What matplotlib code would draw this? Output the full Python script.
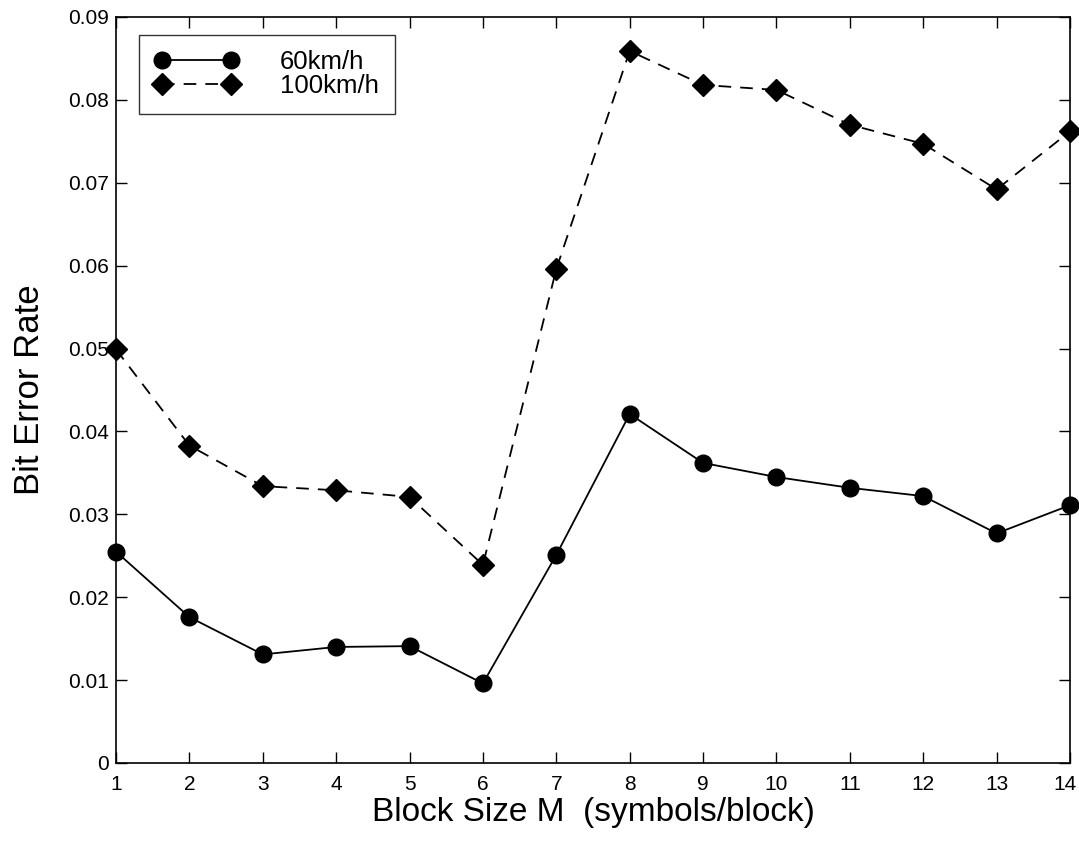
import matplotlib
matplotlib.use("Agg")
import matplotlib.pyplot as plt
import matplotlib.transforms as mtransforms

block_size = [1, 2, 3, 4, 5, 6, 7, 8, 9, 10, 11, 12, 13, 14]
ber_60 = [0.0255, 0.0176, 0.0131, 0.0140, 0.0141, 0.0096, 0.0251,
          0.0421, 0.0362, 0.0345, 0.0332, 0.0322, 0.0277, 0.0311]
ber_100 = [0.0499, 0.0383, 0.0334, 0.0329, 0.0321, 0.0239, 0.0596,
           0.0859, 0.0818, 0.0812, 0.0770, 0.0747, 0.0692, 0.0762]
labels = ["60km/h", "100km/h"]
x_ticks = list(range(1, 15))
y_ticks = [0, 0.01, 0.02, 0.03, 0.04, 0.05, 0.06, 0.07, 0.08, 0.09]
y_ticklabels = ["0", "0.01", "0.02", "0.03", "0.04", "0.05", "0.06", "0.07", "0.08", "0.09"]

plt.rcParams['font.family'] = ['Liberation Sans', 'DejaVu Sans']

fig = plt.figure(figsize=(10.79, 8.51), dpi=100)
ax = fig.add_axes([116/1079, 1 - 763/851, (1070-116)/1079, (763-17)/851])

ax.plot(block_size, ber_60, '-', color='black', lw=1.3, marker='o',
        markersize=12, label=labels[0], clip_on=False, zorder=3)
ax.plot(block_size, ber_100, '--', color='black', lw=1.3, marker='D',
        markersize=11, dashes=(7, 5), label=labels[1], clip_on=False, zorder=3)

ax.set_xlim(1, 14)
ax.set_ylim(0, 0.09)
ax.set_xticks(x_ticks)
ax.set_xticklabels([str(v) for v in x_ticks])
ax.set_yticks(y_ticks)
ax.set_yticklabels(y_ticklabels)
ax.tick_params(direction='in', length=8, width=1, top=True, right=True,
               labelsize=15)
ax.tick_params(axis='x', pad=9)
ax.tick_params(axis='y', pad=5)
for s in ax.spines.values():
    s.set_linewidth(1.2)

# nudge the last x tick label so it stays inside the figure
last = ax.get_xticklabels()[-1]
last.set_transform(last.get_transform() +
                   mtransforms.ScaledTranslation(-5/100, 0, fig.dpi_scale_trans))

ax.set_xlabel("Block Size M  (symbols/block)", fontsize=24, labelpad=2)
ax.set_ylabel("Bit Error Rate", fontsize=25, labelpad=16)

leg = ax.legend(loc='upper left', bbox_to_anchor=(0.024, 0.976), fontsize=18.5,
                numpoints=2, handlelength=3.3, frameon=True, fancybox=False,
                borderpad=0.6, labelspacing=0.0, handletextpad=1.6,
                borderaxespad=0)
leg.get_frame().set_edgecolor('black')
leg.get_frame().set_linewidth(1.0)

fig.savefig("out.png", dpi=100)
